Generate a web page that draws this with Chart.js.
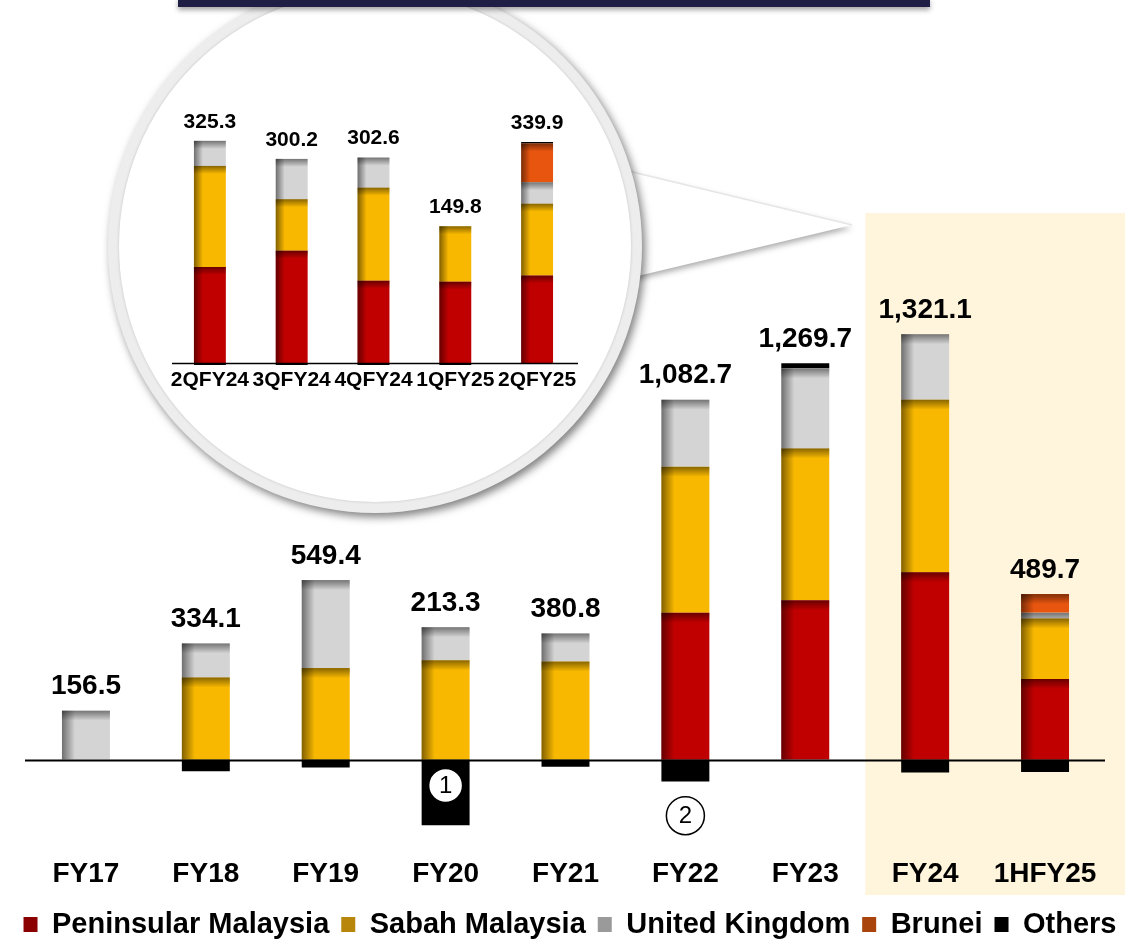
<!DOCTYPE html>
<html>
<head>
<meta charset="utf-8">
<script src="https://cdn.jsdelivr.net/npm/chart.js@4.4.1/dist/chart.umd.min.js"></script>
<style>
  html, body { margin: 0; padding: 0; background: #fff; }
  #wrap { position: relative; width: 1140px; height: 951px; overflow: hidden; }
  #mainChart { position: absolute; left: 0; top: 0; }
  #qChart { position: absolute; left: 150px; top: 100px; }
  #topBar { position: absolute; left: 178px; top: -2px; width: 752px; height: 9px;
            background: #1f1f45; box-shadow: 0 3px 5px rgba(0,0,0,.35); }
</style>
</head>
<body>
<div id="wrap">
  <canvas id="mainChart" width="1140" height="951"></canvas>
  <canvas id="qChart" width="450" height="300"></canvas>
  <div id="topBar"></div>
</div>
<script>
// yearly data
const years = ['FY17', 'FY18', 'FY19', 'FY20', 'FY21', 'FY22', 'FY23', 'FY24', '1HFY25'];
const peninsular = [0, 0, 0, 0, 0, 470, 510, 600, 258];
const sabah = [0, 263, 293, 318, 314, 468, 487, 553, 194];
const uk = [156.5, 109, 282, 106, 90, 215, 256.7, 210, 18];
const brunei = [0, 0, 0, 0, 0, 0, 0, 0, 60];
const others = [0, -38, -26, -210.7, -23.2, -70.3, 16, -41.9, -40.3];
const totals = [156.5, 334.1, 549.4, 213.3, 380.8, 1082.7, 1269.7, 1321.1, 489.7];

// quarterly data (inset)
const quarters = ['2QFY24', '3QFY24', '4QFY24', '1QFY25', '2QFY25'];
const qPeninsular = [147.7, 172.8, 126.6, 125.1, 134.5];
const qSabah = [155.4, 79.1, 143.1, 85.2, 110.5];
const qUk = [38.5, 62.0, 46.2, 0, 33.0];
const qBrunei = [0, 0, 0, 0, 59.6];
const qOthers = [-16.3, -13.7, -13.3, -60.5, 2.3];
const qTotals = [325.3, 300.2, 302.6, 149.8, 339.9];

// footnote markers under the axis
const notes = [
  { index: 3, value: -83, text: '1', filled: true },
  { index: 5, value: -180, text: '2', filled: false }
];

const FONT = "'Liberation Sans', Arial, sans-serif";
const colors = ['#C00000', '#F8B800', '#D4D4D4', '#E8550F', '#000000'];
const legendColors = ['#8B0000', '#B8860B', '#9A9A9A', '#A8440C', '#000000'];
const names = ['Peninsular Malaysia', 'Sabah Malaysia', 'United Kingdom', 'Brunei', 'Others'];

function makeDatasets(series, barPct) {
  return series.map((data, i) => ({
    label: names[i],
    data: data,
    backgroundColor: colors[i],
    borderWidth: 0,
    barPercentage: barPct,
    categoryPercentage: 1
  }));
}

// dark left / top edges on each coloured segment
function shadeBars(chart, leftBand, topBand) {
  const ctx = chart.ctx;
  const area = chart.chartArea;
  ctx.save();
  ctx.beginPath();
  ctx.rect(area.left, area.top, area.right - area.left, area.bottom - area.top);
  ctx.clip();
  chart.data.datasets.forEach((ds, di) => {
    if (ds.label === 'Others') return;
    chart.getDatasetMeta(di).data.forEach((bar, i) => {
      if (!ds.data[i]) return;
      const p = bar.getProps(['x', 'y', 'base', 'width'], true);
      const left = p.x - p.width / 2;
      const top = Math.min(p.y, p.base);
      const h = Math.abs(p.base - p.y);
      let g = ctx.createLinearGradient(left, 0, left + leftBand, 0);
      g.addColorStop(0, 'rgba(0,0,0,0.48)');
      g.addColorStop(1, 'rgba(0,0,0,0)');
      ctx.fillStyle = g;
      ctx.fillRect(left, top, leftBand, h);
      g = ctx.createLinearGradient(0, top, 0, top + topBand);
      g.addColorStop(0, 'rgba(0,0,0,0.45)');
      g.addColorStop(1, 'rgba(0,0,0,0)');
      ctx.fillStyle = g;
      ctx.fillRect(left, top, p.width, Math.min(topBand, h));
    });
  });
  ctx.restore();
}

function drawTotals(chart, values, size, gap) {
  const ctx = chart.ctx;
  const xs = chart.scales.x, ys = chart.scales.y;
  ctx.save();
  ctx.fillStyle = '#000';
  ctx.font = 'bold ' + size + 'px ' + FONT;
  ctx.textAlign = 'center';
  ctx.textBaseline = 'middle';
  values.forEach((t, i) => {
    let top = ys.getPixelForValue(0);
    chart.data.datasets.forEach((ds, di) => {
      if (ds.data[i] > 0) top = Math.min(top, chart.getDatasetMeta(di).data[i].y);
    });
    const txt = t.toLocaleString('en-US', { minimumFractionDigits: 1, maximumFractionDigits: 1 });
    ctx.fillText(txt, xs.getPixelForValue(i), top - gap);
  });
  ctx.restore();
}

function drawZeroLine(chart, x0, x1, lw) {
  const ctx = chart.ctx;
  const y = Math.round(chart.scales.y.getPixelForValue(0)) + 0.5;
  ctx.save();
  ctx.strokeStyle = '#000';
  ctx.lineWidth = lw;
  ctx.beginPath();
  ctx.moveTo(x0, y);
  ctx.lineTo(x1, y);
  ctx.stroke();
  ctx.restore();
}

const mainDecor = {
  id: 'mainDecor',
  beforeDraw(chart) {
    const ctx = chart.ctx;
    const xs = chart.scales.x;
    ctx.save();
    // highlight behind FY24 / 1HFY25
    const hl = (xs.getPixelForValue(6) + xs.getPixelForValue(7)) / 2;
    ctx.fillStyle = '#FFF5DC';
    ctx.fillRect(hl, 213, 1125 - hl, 682);

    // magnifier cone
    ctx.save();
    ctx.shadowColor = 'rgba(0,0,0,0.35)';
    ctx.shadowBlur = 6;
    ctx.shadowOffsetY = 3;
    ctx.fillStyle = '#fff';
    ctx.beginPath();
    ctx.moveTo(600, 165);
    ctx.lineTo(852, 225);
    ctx.lineTo(600, 285);
    ctx.closePath();
    ctx.fill();
    ctx.restore();
    ctx.strokeStyle = '#e6e6e6';
    ctx.lineWidth = 1.5;
    ctx.beginPath();
    ctx.moveTo(620, 169);
    ctx.lineTo(852, 225);
    ctx.stroke();

    // magnifier circle
    ctx.save();
    ctx.shadowColor = 'rgba(0,0,0,0.5)';
    ctx.shadowBlur = 9;
    ctx.shadowOffsetX = 3;
    ctx.shadowOffsetY = 4;
    ctx.fillStyle = '#ededed';
    ctx.beginPath();
    ctx.arc(375, 246, 267, 0, Math.PI * 2);
    ctx.fill();
    ctx.restore();
    ctx.save();
    ctx.shadowColor = 'rgba(0,0,0,0.18)';
    ctx.shadowBlur = 3;
    ctx.fillStyle = '#fff';
    ctx.beginPath();
    ctx.arc(375, 246, 256, 0, Math.PI * 2);
    ctx.fill();
    ctx.restore();
    ctx.restore();
  },
  afterDatasetsDraw(chart) {
    const area = chart.chartArea;
    shadeBars(chart, 13, 10);
    drawZeroLine(chart, area.left - 1, area.right, 2);
    drawTotals(chart, totals, 28, 24);
    const ctx = chart.ctx;
    ctx.save();
    notes.forEach(n => {
      const x = chart.scales.x.getPixelForValue(n.index);
      const y = chart.scales.y.getPixelForValue(n.value);
      ctx.fillStyle = '#fff';
      ctx.strokeStyle = '#000';
      ctx.lineWidth = 1.5;
      ctx.beginPath();
      ctx.arc(x, y, n.filled ? 17 : 19, 0, Math.PI * 2);
      ctx.fill();
      ctx.stroke();
      ctx.fillStyle = '#000';
      ctx.font = '24px ' + FONT;
      ctx.textAlign = 'center';
      ctx.textBaseline = 'middle';
      ctx.fillText(n.text, x, y + 1);
    });
    ctx.restore();
  }
};

const hiddenAxis = (w, pos) => ({
  position: pos,
  display: true,
  grid: { display: false, drawTicks: false },
  border: { display: false },
  ticks: { display: false },
  afterFit(s) { s.width = w; }
});

new Chart(document.getElementById('mainChart'), {
  type: 'bar',
  data: {
    labels: years,
    datasets: makeDatasets([peninsular, sabah, uk, brunei, others], 0.4)
  },
  options: {
    responsive: false,
    animation: false,
    events: [],
    layout: { padding: { top: 166, left: 0, right: 0, bottom: 2 } },
    scales: {
      x: {
        stacked: true,
        grid: { display: false, drawTicks: false },
        border: { display: false },
        ticks: { color: '#000', padding: 7, maxRotation: 0, autoSkip: false,
                 font: { family: FONT, size: 28, weight: 'bold' } },
        afterFit(s) { s.height = 48; }
      },
      y: Object.assign(hiddenAxis(26, 'left'), { stacked: true, min: -290, max: 1902 }),
      yR: hiddenAxis(35, 'right')
    },
    plugins: {
      tooltip: { enabled: false },
      legend: {
        position: 'bottom',
        labels: {
          color: '#000',
          boxWidth: 14,
          boxHeight: 15,
          padding: 12,
          font: { family: FONT, size: 29, weight: 'bold' },
          generateLabels(chart) {
            const items = Chart.defaults.plugins.legend.labels.generateLabels(chart);
            items.forEach((it, i) => {
              it.fillStyle = legendColors[i];
              it.strokeStyle = legendColors[i];
              it.lineWidth = 0;
            });
            return items;
          }
        }
      }
    }
  },
  plugins: [mainDecor]
});

const insetDecor = {
  id: 'insetDecor',
  afterDatasetsDraw(chart) {
    const area = chart.chartArea;
    shadeBars(chart, 9, 8);
    drawZeroLine(chart, area.left + 3, area.right, 1.5);
    drawTotals(chart, qTotals, 21, 19);
  }
};

new Chart(document.getElementById('qChart'), {
  type: 'bar',
  data: {
    labels: quarters,
    datasets: makeDatasets([qPeninsular, qSabah, qUk, qBrunei, qOthers], 0.39)
  },
  options: {
    responsive: false,
    animation: false,
    events: [],
    layout: { padding: { top: 25, left: 19, right: 22, bottom: 0 } },
    scales: {
      x: {
        stacked: true,
        grid: { display: false, drawTicks: false },
        border: { display: false },
        ticks: { color: '#000', padding: 3, maxRotation: 0, minRotation: 0, autoSkip: false,
                 font: { family: FONT, size: 21, weight: 'bold' } },
        afterFit(s) { s.height = 35; }
      },
      y: { stacked: true, display: false, min: -3, max: 366 }
    },
    plugins: { legend: { display: false }, tooltip: { enabled: false } }
  },
  plugins: [insetDecor]
});
</script>
</body>
</html>
